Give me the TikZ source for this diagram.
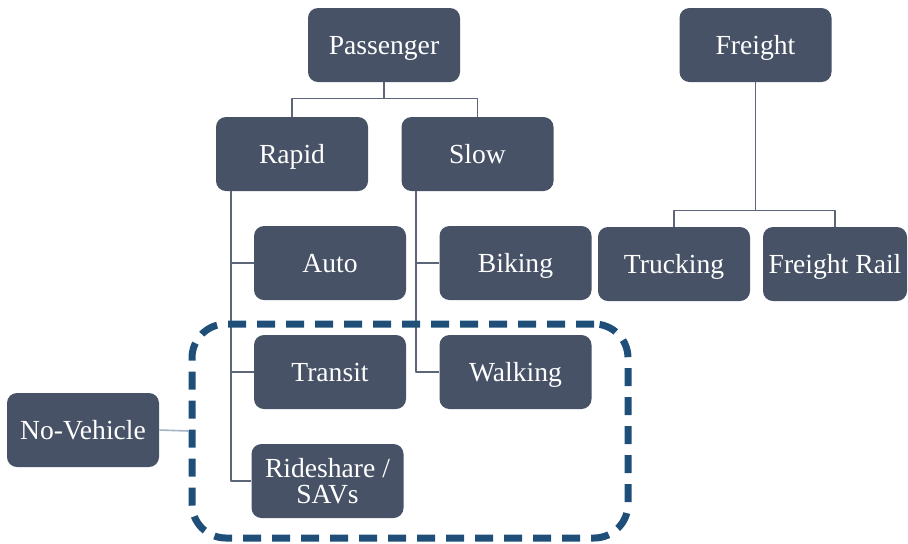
\documentclass[tikz,border=0pt]{standalone}
\usepackage{fontspec}
\setmainfont{Liberation Serif}
\usepackage{tikz}
\usetikzlibrary{positioning}

\definecolor{boxfill}{HTML}{475266}
\definecolor{linkgray}{HTML}{5C6678}
\definecolor{groupblue}{HTML}{1F4E79}
\definecolor{nvlink}{HTML}{A3B3C6}

\tikzset{
  modebox/.style={draw=none,fill=boxfill,rounded corners=5pt,text=white,
    minimum width=76pt,minimum height=37pt,align=center,inner sep=2pt,
    text height=11pt,text depth=2pt,
    font=\fontsize{13.8}{13}\selectfont},
  link/.style={linkgray,line width=0.8pt},
  groupbox/.style={draw=groupblue,line width=3.5pt,dash pattern=on 9pt off 5.5pt,
    rounded corners=17pt,minimum width=218pt,minimum height=107pt,inner sep=0pt},
}

\begin{document}
\begin{tikzpicture}[x=0.5pt,y=-0.5pt,line join=bevel]
\useasboundingbox (0,0) rectangle (908,543);
%%
  \node (passenger) at (384,45) [modebox] {Passenger};
  \node (freight) at (755.5,45) [modebox] {Freight};

  \node (rapid) at (292,154) [modebox] {Rapid};
  \node (slow) at (477.5,154) [modebox] {Slow};

  \node (auto) at (330,263) [modebox] {Auto};
  \node (biking) at (515.5,263) [modebox] {Biking};
  \node (transit) at (330,372) [modebox] {Transit};
  \node (walking) at (515.5,372) [modebox] {Walking};
  \node (rideshare) at (327.5,481) [modebox,text height={},text depth={}] {Rideshare /\\SAVs};

  \node (trucking) at (674,264) [modebox] {Trucking};
  \node (freightrail) at (835,264) [modebox,minimum width=72pt] {Freight Rail};

  \node (novehicle) at (83,430) [modebox] {No-Vehicle};

  \coordinate (rapid_trunk) at (231,191);
  \coordinate (slow_trunk) at (416,191);

  \draw [link] (passenger.south) -- ++(0,16) -| (rapid.north);
  \draw [link] (passenger.south) -- ++(0,16) -| (slow.north);
  \draw [link] (freight.south) -- ++(0,128) -| (trucking.north);
  \draw [link] (freight.south) -- ++(0,128) -| (freightrail.north);

  \draw [link] (rapid_trunk) |- (auto.west);
  \draw [link] (rapid_trunk) |- (transit.west);
  \draw [link] (rapid_trunk) |- (rideshare.west);
  \draw [link] (slow_trunk) |- (biking.west);
  \draw [link] (slow_trunk) |- (walking.west);

  \node (nonvehgroup) at (410,431) [groupbox] {};
  \draw [nvlink,line width=0.8pt] (novehicle.east) -- (nonvehgroup.west);
%
\end{tikzpicture}
\end{document}
